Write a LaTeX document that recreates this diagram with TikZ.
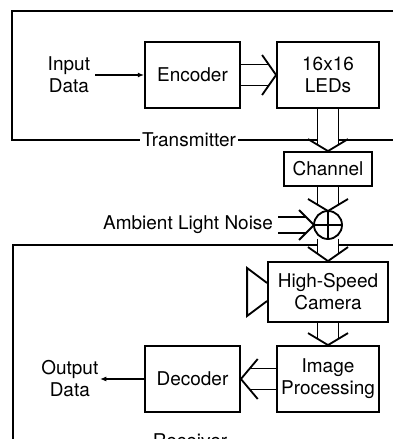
\documentclass[tikz,border=0pt]{standalone}
\usepackage{fontspec}
\setmainfont{TeX Gyre Heros}
\usetikzlibrary{arrows.meta,calc,backgrounds}

\pgfdeclarelayer{flowfill}
\pgfsetlayers{background,flowfill,main}

% wide two-line arrow: from, to, half gap, arm reach, head length (cm)
\newcommand{\flowarrow}[5]{%
  \pgfmathsetmacro{\flowcut}{#5*#3/#4}%
  \begin{pgfonlayer}{flowfill}
    \fill[white] ($(#1)!#3cm!90:(#2)$) -- ($(#2)!\flowcut cm!(#1)!#3cm!-90:(#1)$)
      -- ($(#2)!#5cm!(#1)!#4cm!-90:(#1)$) -- (#2)
      -- ($(#2)!#5cm!(#1)!#4cm!90:(#1)$) -- ($(#2)!\flowcut cm!(#1)!#3cm!90:(#1)$)
      -- ($(#1)!#3cm!-90:(#2)$) -- cycle;
  \end{pgfonlayer}
  \draw[flow] ($(#1)!#3cm!90:(#2)$) -- ($(#2)!\flowcut cm!(#1)!#3cm!-90:(#1)$);
  \draw[flow] ($(#1)!#3cm!-90:(#2)$) -- ($(#2)!\flowcut cm!(#1)!#3cm!90:(#1)$);
  \draw[flow] ($(#2)!#5cm!(#1)!#4cm!-90:(#1)$) -- (#2)
    -- ($(#2)!#5cm!(#1)!#4cm!90:(#1)$);
}

\begin{document}
\begin{tikzpicture}[
  font=\fontsize{13.5pt}{15.6pt}\selectfont,
  block/.style={
    draw,
    line width=1.3pt,
    align=center,
    inner sep=2pt,
    minimum height=1.65cm,
  },
  flow/.style={line width=1.3pt},
  frame/.style={draw, line width=1.3pt},
  framelabel/.style={fill=white, inner sep=1.5pt},
  datain/.style={-{Latex[length=4.5pt,width=3.6pt]}, line width=1.1pt},
]
  \useasboundingbox (0,0) rectangle (9.825,10.975);

  % transmitter
  \node[align=center, anchor=east] (indata) at (2.375,9.1) {Input\\Data};
  \node[block, minimum width=2.375cm] (enc) at (4.8125,9.1) {Encoder};
  \node[block, minimum width=2.55cm] (led) at (8.2,9.1) {16x16\\LEDs};
  \node[framelabel] (txlabel) at (4.725,7.475) {Transmitter};

  % channel
  \node[block, minimum width=2.2cm, minimum height=0.85cm] (chan) at (8.2,6.75) {Channel};
  \node[circle, draw, line width=1.3pt, minimum size=0.7cm, inner sep=0pt,
        outer sep=0pt] (sum) at (8.2,5.35) {};
  \draw[line width=1.3pt] (sum.north) -- (sum.south) (sum.west) -- (sum.east);
  \node[anchor=east] (noise) at (6.95,5.35) {Ambient Light Noise};

  % receiver
  \node[block, minimum width=3cm, minimum height=1.5cm] (cam) at (8.2,3.675) {High-Speed\\Camera};
  \draw[line width=1.3pt, line join=miter]
    ($(cam.west)+(0,0.225)$) -- ++(-0.5,0.375) -- ++(0,-1.2) -- ($(cam.west)+(0,-0.225)$);
  \node[block, minimum width=2.55cm] (proc) at (8.2,1.5) {Image\\Processing};
  \node[block, minimum width=2.375cm] (dec) at (4.8125,1.5) {Decoder};
  \node[align=center, anchor=east, inner sep=1pt] (outdata) at (2.5,1.5) {Output\\Data};
  \node[framelabel] (rxlabel) at (4.75,-0.05) {Receiver};

  \begin{scope}[on background layer]
    \draw[frame] (0.3,7.475) rectangle (10.2,10.7);
    \draw[frame] (0.325,-0.05) rectangle (10.2,4.85);
  \end{scope}

  \draw[datain] (indata.east) -- (enc.west);
  \flowarrow{enc.east}{led.west}{0.2625}{0.5}{0.35}
  \flowarrow{led.south}{chan.north}{0.2625}{0.5}{0.3}
  \flowarrow{chan.south}{sum.north}{0.2625}{0.5}{0.3}
  \flowarrow{noise.east}{sum.west}{0.19}{0.375}{0.375}
  \flowarrow{sum.south}{cam.north}{0.2625}{0.5}{0.35}
  \flowarrow{cam.south}{proc.north}{0.2625}{0.5}{0.3}
  \flowarrow{proc.west}{dec.east}{0.2625}{0.5}{0.42}
  \draw[datain] (dec.west) -- (outdata.east);

\end{tikzpicture}
\end{document}
